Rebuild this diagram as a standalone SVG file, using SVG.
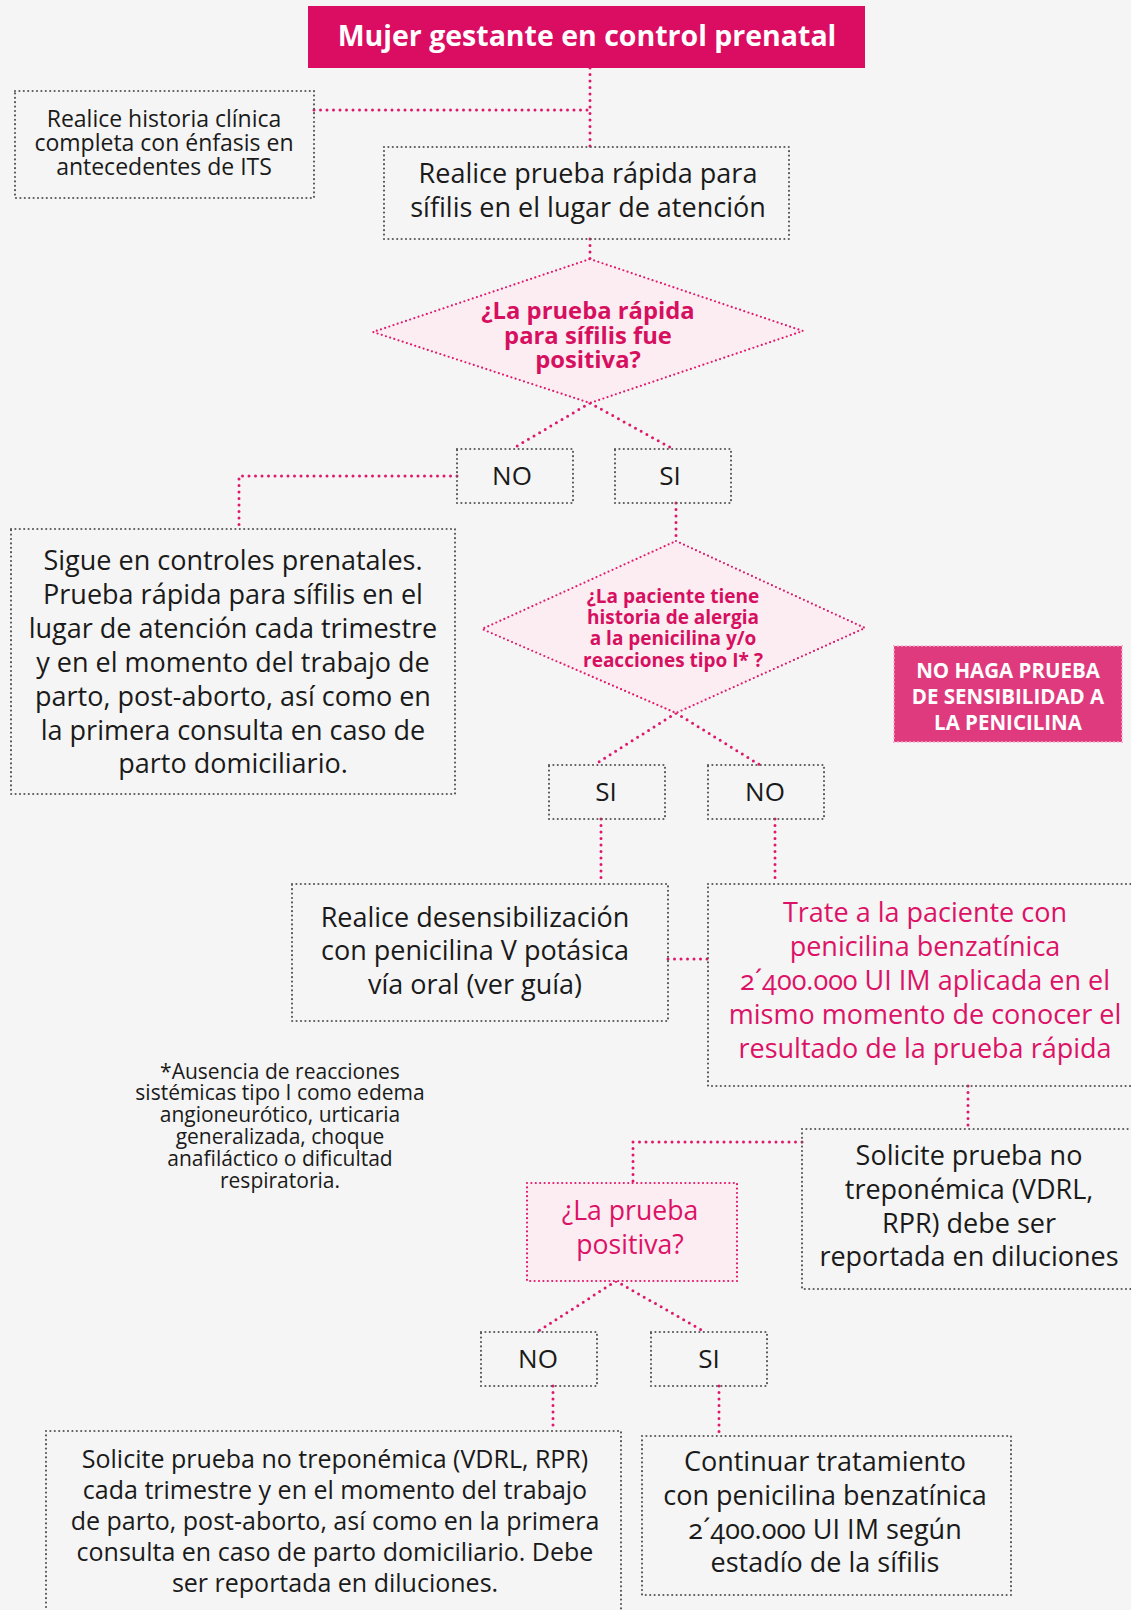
<svg xmlns="http://www.w3.org/2000/svg" width="1131" height="1610" viewBox="0 0 1131 1610">
<style>
.bg{fill:#f5f5f5}
.box{fill:none;stroke:#5a5a5a;stroke-width:2.2;stroke-dasharray:0 4.4;stroke-linecap:round}
.pbox{fill:#fcedf3;stroke:#e2186a;stroke-width:2.2;stroke-dasharray:0 4.4;stroke-linecap:round}
.con{fill:none;stroke:#e0186a;stroke-width:3;stroke-dasharray:0 6.5;stroke-linecap:round}
text{font-family:"Open Sans","Noto Sans","DejaVu Sans",sans-serif;text-anchor:middle;font-variant-numeric:oldstyle-nums}
.t{fill:#1a1a1a;font-size:27px}
.y{fill:#1a1a1a;font-size:26px}
.l{fill:#1a1a1a;font-size:25px}
.s{fill:#1a1a1a;font-size:23px}
.f{fill:#1a1a1a;font-size:21px}
.m{fill:#dc1266;font-size:27px}
.mp{fill:#dc1266;font-size:26.6px}
.q{fill:#d6105f;font-weight:bold}
.w{fill:#ffffff;font-weight:bold}
</style>
<rect class="bg" x="0" y="0" width="1131" height="1610"/>
<g id="connectors">
<path class="con" d="M590 68 V147"/>
<path class="con" d="M314 110 H590"/>
<path class="con" d="M590 239 V259"/>
<path class="con" d="M590 403 L512 449"/>
<path class="con" d="M590 403 L673 449"/>
<path class="con" d="M457 476 H239 V529"/>
<path class="con" d="M676 503 V541"/>
<path class="con" d="M676 713 L594 765"/>
<path class="con" d="M676 713 L760 765"/>
<path class="con" d="M601 819 V884"/>
<path class="con" d="M775 819 V884"/>
<path class="con" d="M668 959 H708"/>
<path class="con" d="M968 1086 V1129"/>
<path class="con" d="M802 1142 H633 V1183"/>
<path class="con" d="M616 1281 L537 1332"/>
<path class="con" d="M616 1281 L705 1332"/>
<path class="con" d="M553 1386 V1431"/>
<path class="con" d="M719 1386 V1436"/>
</g>
<g id="n-title">
<rect x="308" y="6" width="557" height="62" fill="#db0d62"/>
<text class="w" x="587" y="46" font-size="28.5">Mujer gestante en control prenatal</text>
</g>
<g id="n-historia">
<rect class="box" x="15" y="91" width="299" height="107"/>
<text class="s" x="164" y="127">Realice historia clínica</text>
<text class="s" x="164" y="151">completa con énfasis en</text>
<text class="s" x="164" y="175">antecedentes de ITS</text>
</g>
<g id="n-prueba">
<rect class="box" x="384" y="147" width="405" height="92"/>
<text class="t" x="588" y="183">Realice  prueba rápida para</text>
<text class="t" x="588" y="217">sífilis en el lugar de atención</text>
</g>
<g id="n-d1">
<polygon class="pbox" points="590,259 803,331 590,403 373,332"/>
<text class="q" x="588" y="319" font-size="23.8">¿La prueba rápida</text>
<text class="q" x="588" y="344" font-size="23.8">para sífilis fue</text>
<text class="q" x="588" y="368" font-size="23.8">positiva?</text>
</g>
<g id="n-no1">
<rect class="box" x="457" y="449" width="116" height="54"/>
<text class="y" x="512" y="485">NO</text>
</g>
<g id="n-si1">
<rect class="box" x="615" y="449" width="116" height="54"/>
<text class="y" x="670" y="485">SI</text>
</g>
<g id="n-sigue">
<rect class="box" x="11" y="529" width="444" height="265"/>
<text class="t" x="233" y="570">Sigue en controles prenatales.</text>
<text class="t" x="233" y="604">Prueba rápida para sífilis en el</text>
<text class="t" x="233" y="638">lugar de atención cada trimestre</text>
<text class="t" x="233" y="672">y en el momento del trabajo de</text>
<text class="t" x="233" y="706">parto, post-aborto, así como en</text>
<text class="t" x="233" y="740">la primera consulta en caso de</text>
<text class="t" x="233" y="773">parto domiciliario.</text>
</g>
<g id="n-d2">
<polygon class="pbox" points="676,541 865,628 676,713 482,629"/>
<text class="q" x="673" y="603" font-size="19">¿La paciente tiene</text>
<text class="q" x="673" y="624" font-size="19">historia de alergia</text>
<text class="q" x="673" y="645" font-size="19">a la penicilina y/o</text>
<text class="q" x="673" y="667" font-size="19">reacciones tipo I* ?</text>
</g>
<g id="n-nohaga">
<rect x="894" y="646" width="228" height="96" fill="#e03a7e" stroke="#f7a8c6" stroke-width="2" stroke-dasharray="0 4" stroke-linecap="round"/>
<text class="w" x="1008" y="678" font-size="20.5">NO HAGA PRUEBA</text>
<text class="w" x="1008" y="704" font-size="20.5">DE SENSIBILIDAD A</text>
<text class="w" x="1008" y="730" font-size="20.5">LA PENICILINA</text>
</g>
<g id="n-si2">
<rect class="box" x="549" y="765" width="116" height="54"/>
<text class="y" x="606" y="801">SI</text>
</g>
<g id="n-no2">
<rect class="box" x="708" y="765" width="116" height="54"/>
<text class="y" x="765" y="801">NO</text>
</g>
<g id="n-desens">
<rect class="box" x="292" y="884" width="376" height="137"/>
<text class="t" x="475" y="927">Realice desensibilización</text>
<text class="t" x="475" y="960">con penicilina V potásica</text>
<text class="t" x="475" y="994">vía oral (ver guía)</text>
</g>
<g id="n-trate">
<rect class="box" x="708" y="884" width="440" height="202"/>
<text class="m" x="925" y="922">Trate a la paciente con</text>
<text class="m" x="925" y="956">penicilina benzatínica</text>
<text class="m" x="925" y="990">2´400.000 UI IM aplicada en el</text>
<text class="m" x="925" y="1024">mismo momento de conocer el</text>
<text class="m" x="925" y="1058">resultado de la prueba rápida</text>
</g>
<g id="n-nota">
<text class="f" x="280" y="1079">*Ausencia de reacciones</text>
<text class="f" x="280" y="1100">sistémicas tipo I como edema</text>
<text class="f" x="280" y="1122">angioneurótico, urticaria</text>
<text class="f" x="280" y="1144">generalizada, choque</text>
<text class="f" x="280" y="1166">anafiláctico o dificultad</text>
<text class="f" x="280" y="1188">respiratoria.</text>
</g>
<g id="n-solicite1">
<rect class="box" x="802" y="1129" width="346" height="160"/>
<text class="t" x="969" y="1165">Solicite prueba no</text>
<text class="t" x="969" y="1199">treponémica (VDRL,</text>
<text class="t" x="969" y="1233">RPR) debe ser</text>
<text class="t" x="969" y="1266">reportada en diluciones</text>
</g>
<g id="n-positiva">
<rect class="pbox" x="527" y="1183" width="210" height="98"/>
<text class="mp" x="630" y="1220">¿La prueba</text>
<text class="mp" x="630" y="1254">positiva?</text>
</g>
<g id="n-no3">
<rect class="box" x="481" y="1332" width="116" height="54"/>
<text class="y" x="538" y="1368">NO</text>
</g>
<g id="n-si3">
<rect class="box" x="651" y="1332" width="116" height="54"/>
<text class="y" x="709" y="1368">SI</text>
</g>
<g id="n-solicite2">
<rect class="box" x="46" y="1431" width="575" height="195"/>
<text class="l" x="335" y="1468">Solicite prueba no treponémica (VDRL, RPR)</text>
<text class="l" x="335" y="1499">cada trimestre y en el momento del trabajo</text>
<text class="l" x="335" y="1530">de parto, post-aborto, así como en la primera</text>
<text class="l" x="335" y="1561">consulta en caso de parto domiciliario. Debe</text>
<text class="l" x="335" y="1592">ser reportada en diluciones.</text>
</g>
<g id="n-continuar">
<rect class="box" x="642" y="1436" width="369" height="159"/>
<text class="t" x="825" y="1471">Continuar tratamiento</text>
<text class="t" x="825" y="1505">con penicilina benzatínica</text>
<text class="t" x="825" y="1539">2´400.000 UI IM según</text>
<text class="t" x="825" y="1572">estadío de la sífilis</text>
</g>
</svg>
